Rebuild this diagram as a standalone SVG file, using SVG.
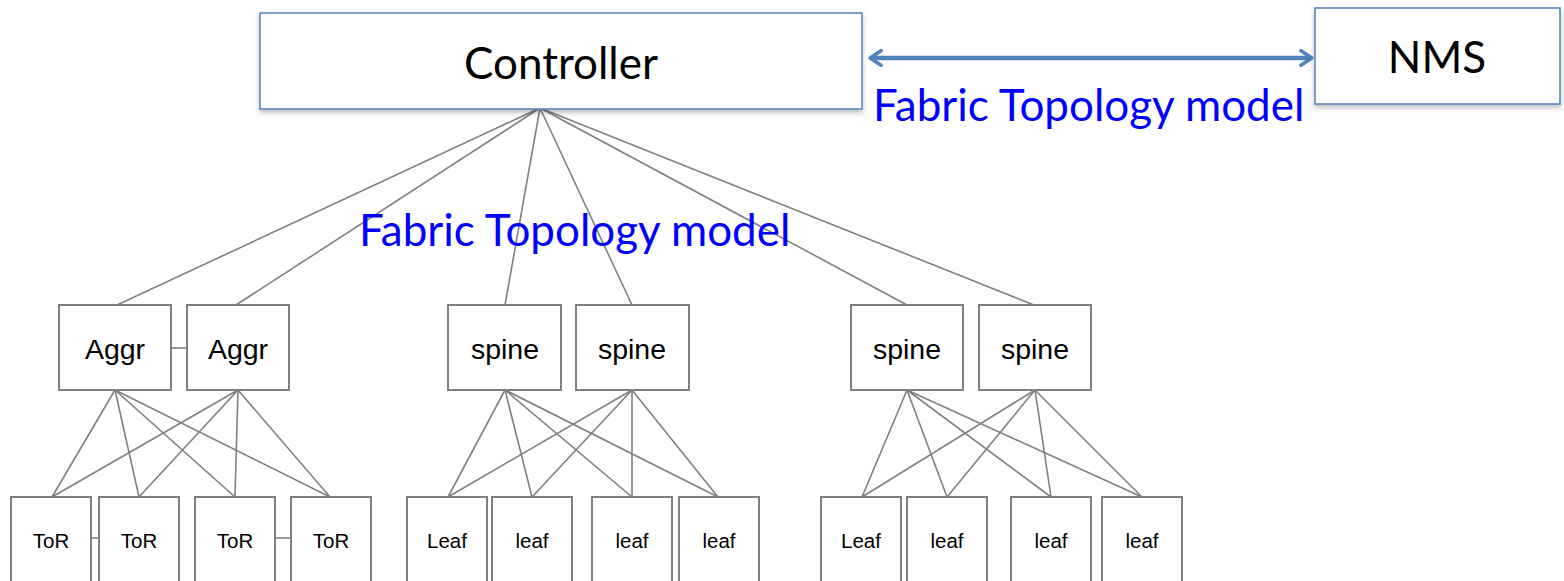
<svg xmlns="http://www.w3.org/2000/svg" width="1564" height="581" viewBox="0 0 1564 581">
<defs>
<filter id="sh" x="-10%" y="-10%" width="120%" height="130%">
<feDropShadow dx="0" dy="3" stdDeviation="2.5" flood-color="#000" flood-opacity="0.25"/>
</filter>
<marker id="ah" viewBox="0 0 10 10" refX="6" refY="5" markerWidth="4" markerHeight="4" orient="auto-start-reverse">
<path d="M1,1 L7,5 L1,9" fill="none" stroke="#4F81BD" stroke-width="2" stroke-linecap="round" stroke-linejoin="round"/>
</marker>
<style>
.top{fill:#fff;stroke:#4F81BD;stroke-width:1.5}
.box{fill:#fff;stroke:#808080;stroke-width:2}
.ln{stroke:#808080;stroke-width:1.6;fill:none}
.big{font-family:Lato,"Open Sans",sans-serif;font-size:44px;fill:#000;text-anchor:middle}
.lbl{font-family:Lato,"Open Sans",sans-serif;font-size:44px;fill:#0000FF}
.mid{font-family:"Liberation Sans",Arial,sans-serif;font-size:28.5px;fill:#000;text-anchor:middle}
.sm{font-family:"Liberation Sans",Arial,sans-serif;font-size:20.5px;fill:#000;text-anchor:middle}
</style>
</defs>
<rect width="1564" height="581" fill="#fff"/>
<g id="connectors">
<line class="ln" x1="540" y1="108" x2="117" y2="305"/>
<line class="ln" x1="540" y1="108" x2="236" y2="305"/>
<line class="ln" x1="540" y1="108" x2="505" y2="305"/>
<line class="ln" x1="540" y1="108" x2="632" y2="305"/>
<line class="ln" x1="540" y1="108" x2="907" y2="305"/>
<line class="ln" x1="540" y1="108" x2="1034" y2="305"/>
<line class="ln" x1="171" y1="348" x2="187" y2="348"/>
<line class="ln" x1="91" y1="538" x2="99" y2="538"/>
<line class="ln" x1="275" y1="538" x2="291" y2="538"/>
<line class="ln" x1="115" y1="390" x2="52" y2="497"/>
<line class="ln" x1="115" y1="390" x2="139" y2="497"/>
<line class="ln" x1="115" y1="390" x2="235" y2="497"/>
<line class="ln" x1="115" y1="390" x2="330" y2="497"/>
<line class="ln" x1="238" y1="390" x2="52" y2="497"/>
<line class="ln" x1="238" y1="390" x2="139" y2="497"/>
<line class="ln" x1="238" y1="390" x2="235" y2="497"/>
<line class="ln" x1="238" y1="390" x2="330" y2="497"/>
<line class="ln" x1="505" y1="390" x2="448" y2="497"/>
<line class="ln" x1="505" y1="390" x2="532" y2="497"/>
<line class="ln" x1="505" y1="390" x2="632" y2="497"/>
<line class="ln" x1="505" y1="390" x2="718" y2="497"/>
<line class="ln" x1="632" y1="390" x2="448" y2="497"/>
<line class="ln" x1="632" y1="390" x2="532" y2="497"/>
<line class="ln" x1="632" y1="390" x2="632" y2="497"/>
<line class="ln" x1="632" y1="390" x2="718" y2="497"/>
<line class="ln" x1="907" y1="390" x2="862" y2="497"/>
<line class="ln" x1="907" y1="390" x2="947" y2="497"/>
<line class="ln" x1="907" y1="390" x2="1051" y2="497"/>
<line class="ln" x1="907" y1="390" x2="1142" y2="497"/>
<line class="ln" x1="1035" y1="390" x2="862" y2="497"/>
<line class="ln" x1="1035" y1="390" x2="947" y2="497"/>
<line class="ln" x1="1035" y1="390" x2="1051" y2="497"/>
<line class="ln" x1="1035" y1="390" x2="1142" y2="497"/>
<line x1="872" y1="58" x2="1310" y2="58" stroke="#4F81BD" stroke-width="4.5" marker-start="url(#ah)" marker-end="url(#ah)"/>
</g>
<g id="controller">
<rect class="top" x="260" y="13" width="602" height="96" filter="url(#sh)"/>
<text class="big" x="561" y="79">Controller</text>
</g>
<g id="nms">
<rect class="top" x="1315" y="8" width="245" height="96" filter="url(#sh)"/>
<text class="big" x="1437" y="73">NMS</text>
</g>
<g id="label-top"><text class="lbl" x="873" y="121">Fabric Topology model</text></g>
<g id="label-mid"><text class="lbl" x="359" y="246">Fabric Topology model</text></g>
<g id="aggr1"><rect class="box" x="59" y="305" width="112" height="85"/><text class="mid" x="115" y="359">Aggr</text></g>
<g id="aggr2"><rect class="box" x="187" y="305" width="102" height="85"/><text class="mid" x="238" y="359">Aggr</text></g>
<g id="spine1"><rect class="box" x="448" y="305" width="113" height="85"/><text class="mid" x="505" y="359">spine</text></g>
<g id="spine2"><rect class="box" x="576" y="305" width="113" height="85"/><text class="mid" x="632" y="359">spine</text></g>
<g id="spine3"><rect class="box" x="851" y="305" width="112" height="85"/><text class="mid" x="907" y="359">spine</text></g>
<g id="spine4"><rect class="box" x="979" y="305" width="112" height="85"/><text class="mid" x="1035" y="359">spine</text></g>
<g id="tor1"><rect class="box" x="11" y="497" width="80" height="100"/><text class="sm" x="51" y="548">ToR</text></g>
<g id="tor2"><rect class="box" x="99" y="497" width="80" height="100"/><text class="sm" x="139" y="548">ToR</text></g>
<g id="tor3"><rect class="box" x="195" y="497" width="80" height="100"/><text class="sm" x="235" y="548">ToR</text></g>
<g id="tor4"><rect class="box" x="291" y="497" width="80" height="100"/><text class="sm" x="331" y="548">ToR</text></g>
<g id="leaf1"><rect class="box" x="407" y="497" width="80" height="100"/><text class="sm" x="447" y="548">Leaf</text></g>
<g id="leaf2"><rect class="box" x="492" y="497" width="80" height="100"/><text class="sm" x="532" y="548">leaf</text></g>
<g id="leaf3"><rect class="box" x="592" y="497" width="80" height="100"/><text class="sm" x="632" y="548">leaf</text></g>
<g id="leaf4"><rect class="box" x="679" y="497" width="80" height="100"/><text class="sm" x="719" y="548">leaf</text></g>
<g id="leaf5"><rect class="box" x="821" y="497" width="80" height="100"/><text class="sm" x="861" y="548">Leaf</text></g>
<g id="leaf6"><rect class="box" x="907" y="497" width="80" height="100"/><text class="sm" x="947" y="548">leaf</text></g>
<g id="leaf7"><rect class="box" x="1011" y="497" width="80" height="100"/><text class="sm" x="1051" y="548">leaf</text></g>
<g id="leaf8"><rect class="box" x="1102" y="497" width="80" height="100"/><text class="sm" x="1142" y="548">leaf</text></g>
</svg>
